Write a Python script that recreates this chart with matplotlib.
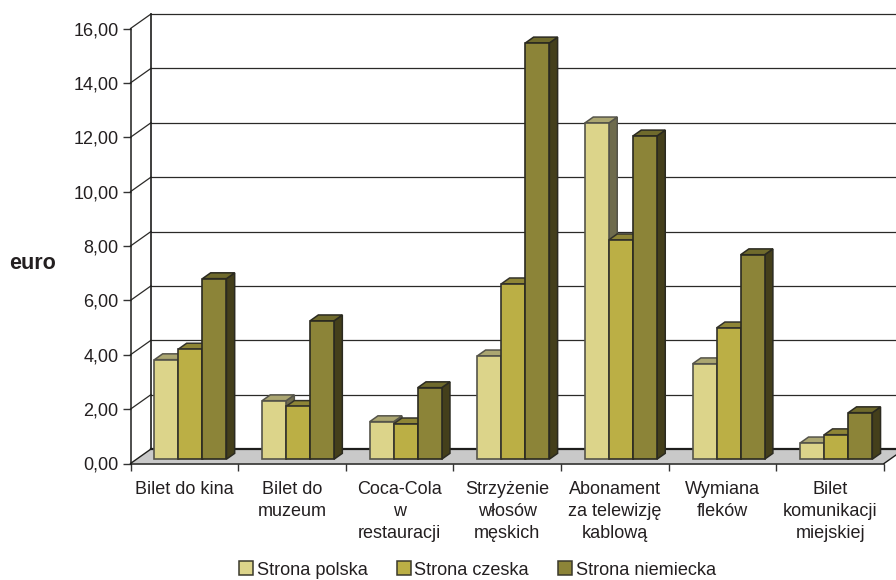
import matplotlib
matplotlib.use("Agg")
import matplotlib.pyplot as plt
from matplotlib.patches import Patch, Polygon
import numpy as np

plt.rcParams["font.family"] = ["Liberation Sans", "DejaVu Sans"]

categories = [
    "Bilet do kina",
    "Bilet do\nmuzeum",
    "Coca-Cola\nw\nrestauracji",
    "Strzyżenie\nwłosów\nmęskich",
    "Abonament\nza telewizję\nkablową",
    "Wymiana\nfleków",
    "Bilet\nkomunikacji\nmiejskiej",
]
polska = [3.66, 2.15, 1.38, 3.80, 12.37, 3.51, 0.60]
czeska = [4.05, 1.94, 1.30, 6.45, 8.07, 4.83, 0.90]
niemiecka = [6.64, 5.09, 2.63, 15.31, 11.89, 7.52, 1.71]
series_names = ["Strona polska", "Strona czeska", "Strona niemiecka"]

# front, top, side
colors = [
    ("#DCD48A", "#ABA671", "#6E6B4D"),
    ("#BBAF45", "#8E8536", "#5F5A26"),
    ("#8C8438", "#6F6A2C", "#443F1B"),
]
edge_colors = ["#55544A", "#33322A", "#2B2A20"]
text_color = "#231F20"

# oblique projection: how far a full step of depth moves in data units
DEPTH_X = 20.5 / 107.64
DEPTH_Y = 14.5 / 27.19
BAR_W = 0.223
BAR_D0, BAR_D1 = 0.3, 0.7


def proj(x, y, d):
    return (x + d * DEPTH_X, y + d * DEPTH_Y)


fig = plt.figure(figsize=(8.96, 5.8), dpi=100)
ax = fig.add_axes([130.5 / 896, (580 - 463.5) / 580, 753.5 / 896, 435 / 580])
ax.set_xlim(0, 7)
ax.set_ylim(0, 16)
ax.patch.set_visible(False)

# back wall grid and side wall diagonals
y_ticks = np.arange(0, 17, 2)
for v in y_ticks[1:]:
    x0, y0 = proj(0, v, 0)
    x1, y1 = proj(0, v, 1)
    ax.plot([x0, x1], [y0, y1], color="#2B2A28", lw=0.9, clip_on=False, zorder=1)
    ax.plot([x1, 7.3], [y1, y1], color="#2B2A28", lw=0.9, clip_on=False, zorder=1)
back_x, back_y0 = proj(0, 0, 1)
ax.plot([back_x, back_x], [back_y0, 16 + DEPTH_Y], color="#1E1E1C", lw=1.2, clip_on=False, zorder=1)

# floor
floor = Polygon([proj(0, 0, 0), proj(7, 0, 0), proj(7, 0, 1), proj(0, 0, 1)],
                closed=True, facecolor="#C9C9C9", edgecolor="none", clip_on=False, zorder=2)
ax.add_patch(floor)
ax.plot([back_x, 7.3], [back_y0, back_y0], color="#1E1E1C", lw=1.6, clip_on=False, zorder=2)
ax.plot(*zip(proj(0, 0, 0), proj(0, 0, 1)), color="#1E1E1C", lw=1, clip_on=False, zorder=2)
ax.plot(*zip(proj(7, 0, 0), proj(7, 0, 1)), color="#1E1E1C", lw=1, clip_on=False, zorder=2)

# bars
values = [polska, czeska, niemiecka]
z = 3
for i in range(len(categories)):
    for s in range(3):
        v = values[s][i]
        c_front, c_top, c_side = colors[s]
        ec = edge_colors[s]
        cx = i + 0.5 + (s - 1) * BAR_W + BAR_D0 * DEPTH_X
        left, right = cx - BAR_W / 2, cx + BAR_W / 2
        base = BAR_D0 * DEPTH_Y
        dd = BAR_D1 - BAR_D0
        top = base + v
        side = Polygon([(right, base), (right + dd * DEPTH_X, base + dd * DEPTH_Y),
                        (right + dd * DEPTH_X, top + dd * DEPTH_Y), (right, top)],
                       closed=True, facecolor=c_side, edgecolor=ec, lw=1.1, zorder=z, clip_on=False)
        cap = Polygon([(left, top), (right, top),
                       (right + dd * DEPTH_X, top + dd * DEPTH_Y), (left + dd * DEPTH_X, top + dd * DEPTH_Y)],
                      closed=True, facecolor=c_top, edgecolor=ec, lw=1.1, zorder=z, clip_on=False)
        ax.add_patch(side)
        ax.add_patch(cap)
        ax.bar(cx, v, width=BAR_W, bottom=base, color=c_front, edgecolor=ec, lw=1.2,
               zorder=z + 0.5, clip_on=False)
        z += 1

# axes and labels
for name in ["top", "right"]:
    ax.spines[name].set_visible(False)
for name in ["left", "bottom"]:
    ax.spines[name].set_color("#1E1E1C")
    ax.spines[name].set_linewidth(1.1)
    ax.spines[name].set_zorder(2.5)

ax.set_yticks(y_ticks)
ax.set_yticklabels([f"{v:.2f}".replace(".", ",") for v in y_ticks])
ax.tick_params(axis="y", length=6, width=1, color="#333333", labelsize=13, labelcolor=text_color, pad=2.5)

ax.set_xticks(np.arange(0, 8))
ax.set_xticklabels([])
ax.tick_params(axis="x", which="major", length=5, width=1, color="#333333")
ax.set_xticks(np.arange(len(categories)) + 0.5, minor=True)
ax.set_xticklabels(categories, minor=True, fontsize=13, color=text_color, linespacing=1.39, ha="center", va="top")
ax.tick_params(axis="x", which="minor", length=0, pad=12.7)

fig.text(32.5 / 896, 1 - 263 / 580, "euro", fontsize=15.5, fontweight="bold", color=text_color,
         ha="center", va="center")

handles = [Patch(facecolor=colors[s][0], edgecolor="#3A392C", lw=1.1, label=series_names[s]) for s in range(3)]
fig.legend(handles=handles, loc="center", bbox_to_anchor=(477.5 / 896, 1 - 570 / 580), ncol=3, frameon=False,
           fontsize=13.1, labelcolor=text_color, handlelength=0.75, handleheight=0.75, handletextpad=0.2,
           columnspacing=1.62, borderpad=0, borderaxespad=0)

fig.savefig("out.png", dpi=100)
plt.close(fig)
